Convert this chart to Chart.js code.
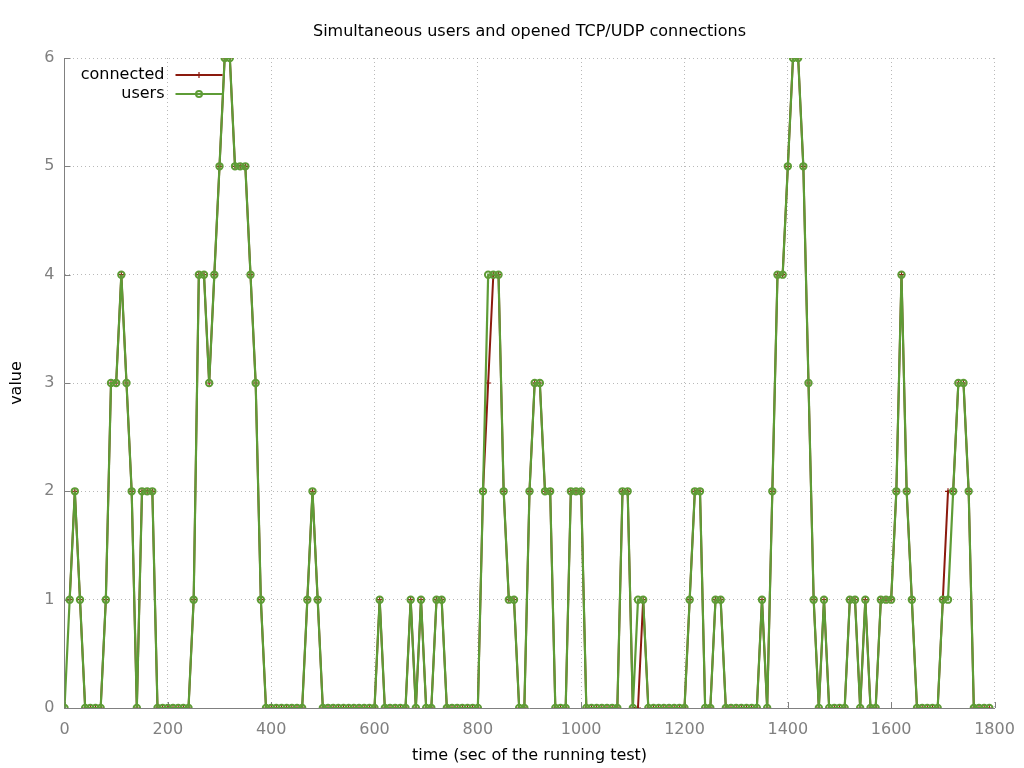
<!DOCTYPE html>
<html>
<head>
<meta charset="utf-8">
<title>Simultaneous users and opened TCP/UDP connections</title>
<script src="https://cdn.jsdelivr.net/npm/chart.js@4/dist/chart.umd.min.js"></script>
<style>
  html, body { margin: 0; padding: 0; background: #fff; }
  #wrap { width: 1024px; height: 768px; position: relative; }
</style>
</head>
<body>
<div id="wrap"><canvas id="chart"></canvas></div>
<script>
// gnuplot look: dark red / green linespoints, grey dotted grid

const times = [
     0,   10,   20,   30,   40,   50,   60,   70,   80,   90,
   100,  110,  120,  130,  140,  150,  160,  170,  180,  190,
   200,  210,  220,  230,  240,  250,  260,  270,  280,  290,
   300,  310,  320,  330,  340,  350,  360,  370,  380,  390,
   400,  410,  420,  430,  440,  450,  460,  470,  480,  490,
   500,  510,  520,  530,  540,  550,  560,  570,  580,  590,
   600,  610,  620,  630,  640,  650,  660,  670,  680,  690,
   700,  710,  720,  730,  740,  750,  760,  770,  780,  790,
   800,  810,  820,  830,  840,  850,  860,  870,  880,  890,
   900,  910,  920,  930,  940,  950,  960,  970,  980,  990,
  1000, 1010, 1020, 1030, 1040, 1050, 1060, 1070, 1080, 1090,
  1100, 1110, 1120, 1130, 1140, 1150, 1160, 1170, 1180, 1190,
  1200, 1210, 1220, 1230, 1240, 1250, 1260, 1270, 1280, 1290,
  1300, 1310, 1320, 1330, 1340, 1350, 1360, 1370, 1380, 1390,
  1400, 1410, 1420, 1430, 1440, 1450, 1460, 1470, 1480, 1490,
  1500, 1510, 1520, 1530, 1540, 1550, 1560, 1570, 1580, 1590,
  1600, 1610, 1620, 1630, 1640, 1650, 1660, 1670, 1680, 1690,
  1700, 1710, 1720, 1730, 1740, 1750, 1760, 1770, 1780, 1790
];

const connected = [
  null, 1, 2, 1, 0, 0, 0, 0, 1, 3,
  3, 4, 3, 2, 0, 2, 2, 2, 0, 0,
  0, 0, 0, 0, 0, 1, 4, 4, 3, 4,
  5, 6, 6, 5, 5, 5, 4, 3, 1, 0,
  0, 0, 0, 0, 0, 0, 0, 1, 2, 1,
  0, 0, 0, 0, 0, 0, 0, 0, 0, 0,
  0, 1, 0, 0, 0, 0, 0, 1, 0, 1,
  0, 0, 1, 1, 0, 0, 0, 0, 0, 0,
  0, 2, 3, 4, 4, 2, 1, 1, 0, 0,
  2, 3, 3, 2, 2, 0, 0, 0, 2, 2,
  2, 0, 0, 0, 0, 0, 0, 0, 2, 2,
  0, 0, 1, 0, 0, 0, 0, 0, 0, 0,
  0, 1, 2, 2, 0, 0, 1, 1, 0, 0,
  0, 0, 0, 0, 0, 1, 0, 2, 4, 4,
  5, 6, 6, 5, 3, 1, 0, 1, 0, 0,
  0, 0, 1, 1, 0, 1, 0, 0, 1, 1,
  1, 2, 4, 2, 1, 0, 0, 0, 0, 0,
  1, 2, 2, 3, 3, 2, 0, 0, 0, 0
];

const users = [
  0, 1, 2, 1, 0, 0, 0, 0, 1, 3,
  3, 4, 3, 2, 0, 2, 2, 2, 0, 0,
  0, 0, 0, 0, 0, 1, 4, 4, 3, 4,
  5, 6, 6, 5, 5, 5, 4, 3, 1, 0,
  0, 0, 0, 0, 0, 0, 0, 1, 2, 1,
  0, 0, 0, 0, 0, 0, 0, 0, 0, 0,
  0, 1, 0, 0, 0, 0, 0, 1, 0, 1,
  0, 0, 1, 1, 0, 0, 0, 0, 0, 0,
  0, 2, 4, 4, 4, 2, 1, 1, 0, 0,
  2, 3, 3, 2, 2, 0, 0, 0, 2, 2,
  2, 0, 0, 0, 0, 0, 0, 0, 2, 2,
  0, 1, 1, 0, 0, 0, 0, 0, 0, 0,
  0, 1, 2, 2, 0, 0, 1, 1, 0, 0,
  0, 0, 0, 0, 0, 1, 0, 2, 4, 4,
  5, 6, 6, 5, 3, 1, 0, 1, 0, 0,
  0, 0, 1, 1, 0, 1, 0, 0, 1, 1,
  1, 2, 4, 2, 1, 0, 0, 0, 0, 0,
  1, 1, 2, 3, 3, 2, 0, 0, 0, 0
];

const seriesNames = ['connected', 'users'];
const seriesColors = ['#8b1a0e', '#5e9c36'];
const FONT = 'DejaVu Sans';
const GREY = '#808080';

const toPoints = (vals) => times.map((t, i) => ({ x: t, y: vals[i] }));

// gnuplot-style key: text right-aligned, then sample line with marker
const keyPlugin = {
  id: 'gnuKey',
  afterDatasetsDraw(chart) {
    const { ctx, chartArea } = chart;
    const textRight = chartArea.left + 100;
    const lineL = chartArea.left + 111;
    const lineR = chartArea.left + 158;
    const rows = [chartArea.top + 17, chartArea.top + 36];
    ctx.save();
    ctx.font = '16px "' + FONT + '"';
    ctx.textAlign = 'right';
    ctx.textBaseline = 'middle';
    seriesNames.forEach((name, i) => {
      const y = rows[i];
      ctx.fillStyle = '#000';
      ctx.fillText(name, textRight, y);
      ctx.strokeStyle = seriesColors[i];
      ctx.lineWidth = 2;
      ctx.beginPath();
      ctx.moveTo(lineL, y);
      ctx.lineTo(lineR, y);
      ctx.stroke();
      const mx = (lineL + lineR) / 2;
      ctx.lineWidth = i === 0 ? 1.2 : 2;
      ctx.beginPath();
      if (i === 0) {
        ctx.moveTo(mx - 3, y); ctx.lineTo(mx + 3, y);
        ctx.moveTo(mx, y - 3); ctx.lineTo(mx, y + 3);
      } else {
        ctx.arc(mx, y, 3, 0, Math.PI * 2);
      }
      ctx.stroke();
    });
    ctx.restore();
  }
};

// small inward tick marks like gnuplot's tics
const inwardTicks = {
  id: 'inwardTicks',
  beforeDatasetsDraw(chart) {
    const { ctx, chartArea, scales } = chart;
    ctx.save();
    ctx.strokeStyle = GREY;
    ctx.lineWidth = 1;
    ctx.beginPath();
    scales.x.ticks.forEach(t => {
      const px = Math.round(scales.x.getPixelForValue(t.value)) + 0.5;
      ctx.moveTo(px, chartArea.bottom);
      ctx.lineTo(px, chartArea.bottom - 6);
    });
    scales.y.ticks.forEach(t => {
      const py = Math.round(scales.y.getPixelForValue(t.value)) + 0.5;
      ctx.moveTo(chartArea.left, py);
      ctx.lineTo(chartArea.left + 6, py);
    });
    ctx.stroke();
    ctx.restore();
  }
};

const gridColor = (c) => c.tick && c.tick.value === 0 ? 'rgba(0,0,0,0)' : 'rgba(128,128,128,0.55)';

new Chart(document.getElementById('chart'), {
  type: 'line',
  data: {
    datasets: [
      {
        label: seriesNames[0],
        data: toPoints(connected),
        borderColor: seriesColors[0],
        borderWidth: 2,
        pointStyle: 'cross',
        pointRadius: 3,
        pointBorderWidth: 1.2,
        pointBorderColor: seriesColors[0],
        pointBackgroundColor: seriesColors[0],
        tension: 0,
        order: 1
      },
      {
        label: seriesNames[1],
        data: toPoints(users),
        borderColor: seriesColors[1],
        borderWidth: 2.2,
        pointStyle: 'circle',
        pointRadius: 3.2,
        pointBorderWidth: 2,
        pointBorderColor: seriesColors[1],
        pointBackgroundColor: 'rgba(0,0,0,0)',
        tension: 0,
        order: 0
      }
    ]
  },
  options: {
    responsive: true,
    maintainAspectRatio: false,
    animation: false,
    layout: { padding: { left: 0, right: 29.5, top: 0, bottom: 0 } },
    plugins: {
      legend: { display: false },
      tooltip: { enabled: false },
      title: {
        display: true,
        text: 'Simultaneous users and opened TCP/UDP connections',
        color: '#000',
        fullSize: false,
        font: { family: FONT, size: 16, weight: 'normal', lineHeight: 1.2 },
        padding: { top: 22, bottom: 16.8 }
      }
    },
    scales: {
      x: {
        type: 'linear',
        min: 0,
        max: 1800,
        afterFit: (s) => { s.height = 60; s.paddingLeft = 0; s.paddingRight = 0; },
        ticks: { stepSize: 200, color: GREY, padding: 12.4, maxRotation: 0,
                 callback: (v) => String(v),
                 font: { family: FONT, size: 16 } },
        grid: { drawTicks: false, color: gridColor, lineWidth: 1 },
        border: { display: true, color: GREY, width: 1, dash: [1, 3] },
        title: { display: true, text: 'time (sec of the running test)', color: '#000',
                 font: { family: FONT, size: 16 }, padding: { top: 0, bottom: 2.4 } }
      },
      y: {
        min: 0,
        max: 6,
        afterFit: (s) => { s.width = 64.5; },
        ticks: { stepSize: 1, color: GREY, padding: 10,
                 callback: (v) => String(v),
                 font: { family: FONT, size: 16 } },
        grid: { drawTicks: false, color: gridColor, lineWidth: 1 },
        border: { display: true, color: GREY, width: 1, dash: [1, 3] },
        title: { display: true, text: 'value', color: '#000',
                 font: { family: FONT, size: 16 }, padding: { top: 7.4, bottom: 0 } }
      }
    }
  },
  plugins: [inwardTicks, keyPlugin]
});
</script>
</body>
</html>
